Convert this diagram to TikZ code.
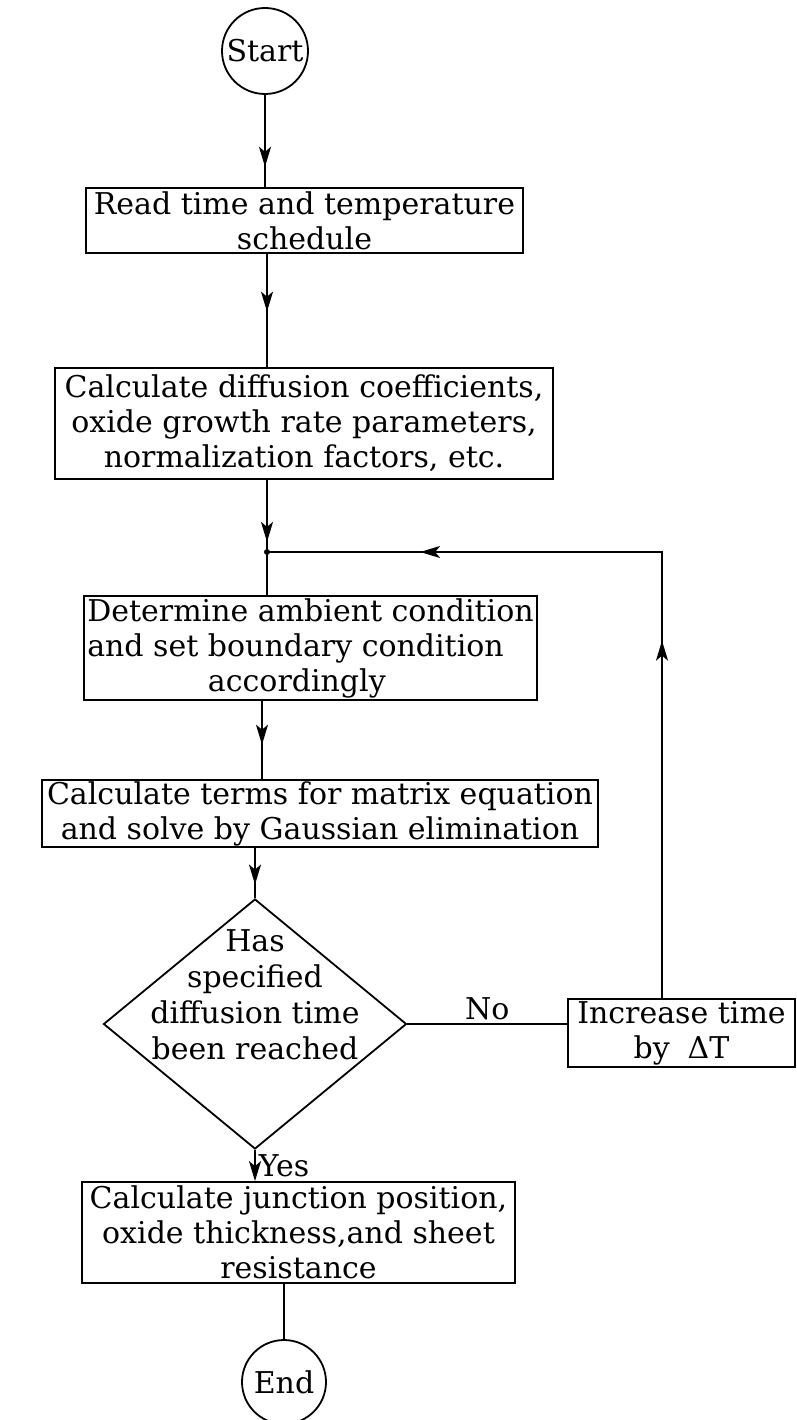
\documentclass[tikz,border=0pt]{standalone}
\usepackage{fontspec}
\setmainfont{DejaVu Serif}
\usetikzlibrary{arrows.meta,shapes.geometric,decorations.markings}
\tikzset{
  arr/.tip={Stealth[length=20pt,width=12pt,inset=5pt]},
  box/.style={draw, rectangle, inner sep=0pt, align=center},
  term/.style={draw, circle, inner sep=0pt},
  decision/.style={draw, diamond, inner sep=0pt},
  txt/.style={inner sep=0pt, align=center},
  midarr/.style={postaction={decorate, decoration={markings,
      mark=at position #1 with {\arrow{arr}}}}},
  lbl/.style={inner sep=3pt}
}
\begin{document}
\begin{tikzpicture}[x=1pt,y=-1pt,line width=1.8pt,
  every node/.style={font=\fontsize{30pt}{35pt}\selectfont}]
\useasboundingbox (0,0) rectangle (796,1420);

% nodes
\node[term, minimum size=86pt] (start) at (265,51) {Start};
\node[box, minimum width=437pt, minimum height=65pt] (b1) at (304.5,220.5)
  {Read time and temperature\\schedule};
\node[box, minimum width=498pt, minimum height=111pt] (b2) at (304,423.5)
  {Calculate diffusion coefficients,\\oxide growth rate parameters,\\normalization factors, etc.};
\node[box, align=left, minimum width=453pt, minimum height=104pt] (b3) at (310.5,648)
  {Determine ambient condition\\and set boundary condition\\\phantom{and set }accordingly};
\node[box, minimum width=556pt, minimum height=67pt] (b4) at (320,813.5)
  {Calculate terms for matrix equation\\and solve by Gaussian elimination};
\node[decision, minimum width=303pt, minimum height=250pt] (dia) at (255,1024) {};
\node[txt, font=\fontsize{30pt}{36pt}\selectfont] (diatext) at (255,995)
  {Has\\specified\\diffusion time\\been reached};
\node[box, minimum width=227pt, minimum height=68pt] (inc) at (681.5,1033)
  {Increase time\\by\hspace{0.6em}ΔT};
\node[box, minimum width=433pt, minimum height=101pt] (b5) at (298.5,1232.5)
  {Calculate junction position,\\oxide thickness,and sheet\\resistance};
\node[term, minimum size=84pt] (end) at (284,1382) {End};

% helper coordinates
\coordinate (junc) at (267,552);
\coordinate (corner) at (662,552);
\coordinate (sp2) at (262,700);

% connectors
\draw[midarr=0.78] (start.south) -- (start.south |- b1.north);
\draw[midarr=0.51] (junc |- b1.south) -- (junc |- b2.north);
\draw[midarr=0.86] (junc |- b2.south) -- (junc);
\fill (junc) circle (3pt);
\draw (junc) -- (junc |- b3.north);
\draw[midarr=0.56] (sp2 |- b3.south) -- (sp2 |- b4.north);
\draw[midarr=0.73] (dia.north |- b4.south) -- (dia.north);
\draw[-{arr}] (dia.south) -- node[lbl, anchor=west, pos=0.5] (yes) {Yes} (dia.south |- b5.north);
\draw (end.north |- b5.south) -- (end.north);
\draw (dia.east) -- node[lbl, anchor=south, pos=0.5] (no) {No} (dia.east -| inc.west);
\draw[postaction={decorate, decoration={markings,
      mark=at position 0.425 with {\arrow{arr}},
      mark=at position 0.818 with {\arrow{arr}}}}]
  (corner |- inc.north) -- (corner) -- (junc);
\end{tikzpicture}
\end{document}
